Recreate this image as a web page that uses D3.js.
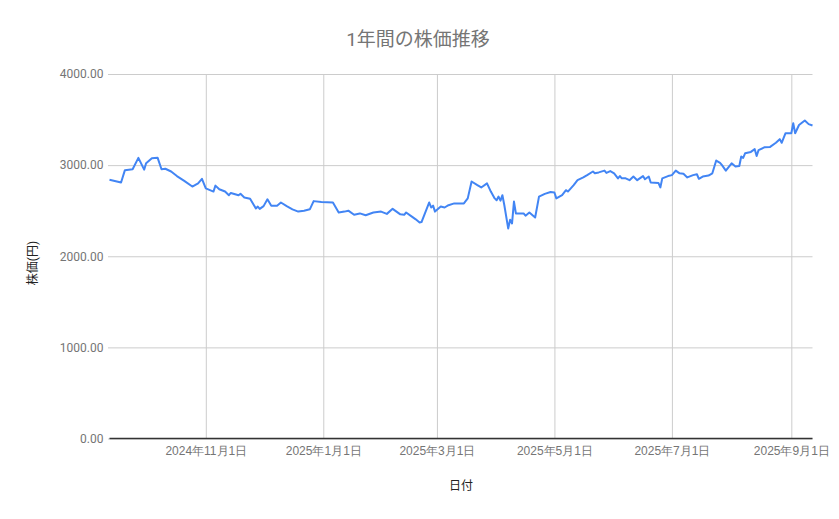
<!DOCTYPE html>
<html>
<head>
<meta charset="utf-8">
<script src="https://cdn.jsdelivr.net/npm/d3@7"></script>
<style>
  body { margin: 0; background: #fff; }
  svg { display: block; font-family: Roboto, "Noto Sans CJK JP", sans-serif; }
</style>
</head>
<body>
<div id="chart"></div>
<script>
var svgWidth = 839;
var svgHeight = 519;

var margin = { top: 74, right: 26.5, bottom: 80.5, left: 109.5 };
var width = svgWidth - margin.left - margin.right;
var height = svgHeight - margin.top - margin.bottom;

// data
var dates = [
  "2024-09-12","2024-09-18","2024-09-20","2024-09-24","2024-09-27","2024-09-30",
  "2024-10-01","2024-10-04","2024-10-07","2024-10-09","2024-10-11","2024-10-14",
  "2024-10-17","2024-10-21","2024-10-25","2024-10-28","2024-10-30","2024-11-01",
  "2024-11-05","2024-11-06","2024-11-08","2024-11-11","2024-11-13","2024-11-14",
  "2024-11-18","2024-11-19","2024-11-21","2024-11-24","2024-11-27","2024-11-28",
  "2024-11-29","2024-12-01","2024-12-03","2024-12-05","2024-12-08","2024-12-10",
  "2024-12-13","2024-12-16","2024-12-19","2024-12-22","2024-12-25","2024-12-27",
  "2024-12-31","2025-01-06","2025-01-09","2025-01-12","2025-01-14","2025-01-17",
  "2025-01-20","2025-01-23","2025-01-27","2025-01-31","2025-02-03","2025-02-06",
  "2025-02-10","2025-02-12","2025-02-13","2025-02-16","2025-02-18","2025-02-20",
  "2025-02-21","2025-02-25","2025-02-26","2025-02-27","2025-02-28","2025-03-03",
  "2025-03-05","2025-03-07","2025-03-10","2025-03-15","2025-03-17","2025-03-19",
  "2025-03-22","2025-03-24","2025-03-27","2025-03-29","2025-03-31","2025-04-01",
  "2025-04-02","2025-04-03","2025-04-04","2025-04-05","2025-04-07","2025-04-08",
  "2025-04-09","2025-04-10","2025-04-11","2025-04-15","2025-04-16","2025-04-18",
  "2025-04-21","2025-04-23","2025-04-26","2025-04-29","2025-05-01","2025-05-02",
  "2025-05-05","2025-05-07","2025-05-08","2025-05-11","2025-05-13","2025-05-16",
  "2025-05-18","2025-05-21","2025-05-22","2025-05-24","2025-05-27","2025-05-28",
  "2025-05-30","2025-06-01","2025-06-03","2025-06-04","2025-06-05","2025-06-07",
  "2025-06-09","2025-06-11","2025-06-13","2025-06-16","2025-06-17","2025-06-19",
  "2025-06-20","2025-06-24","2025-06-25","2025-06-26","2025-06-29","2025-07-01",
  "2025-07-03","2025-07-05","2025-07-07","2025-07-09","2025-07-12","2025-07-14",
  "2025-07-15","2025-07-17","2025-07-20","2025-07-22","2025-07-24","2025-07-26",
  "2025-07-27","2025-07-29","2025-08-01","2025-08-03","2025-08-05","2025-08-06",
  "2025-08-07","2025-08-08","2025-08-11","2025-08-13","2025-08-14","2025-08-15",
  "2025-08-18","2025-08-21","2025-08-24","2025-08-26","2025-08-27","2025-08-29",
  "2025-09-01","2025-09-02","2025-09-03","2025-09-05","2025-09-08","2025-09-10",
  "2025-09-12"
];

var prices = [
  2840, 2810, 2945, 2955, 3080, 2950,
  3020, 3075, 3080, 2955, 2960, 2930,
  2880, 2825, 2765, 2800, 2850, 2745,
  2710, 2775, 2735, 2710, 2670, 2695,
  2670, 2685, 2645, 2630, 2525, 2545,
  2520, 2550, 2625, 2555, 2555, 2590,
  2550, 2515, 2490, 2500, 2515, 2605,
  2595, 2590, 2480, 2490, 2500, 2455,
  2470, 2450, 2480, 2490, 2465, 2520,
  2460, 2455, 2480, 2435, 2405, 2370,
  2375, 2590, 2535, 2555, 2490, 2545,
  2535, 2560, 2580, 2580, 2635, 2820,
  2780, 2755, 2800, 2710, 2635, 2615,
  2655, 2610, 2670, 2560, 2305, 2400,
  2360, 2600, 2470, 2470, 2445, 2480,
  2425, 2655, 2685, 2705, 2700, 2635,
  2670, 2725, 2710, 2780, 2835, 2865,
  2890, 2930, 2910, 2920, 2940, 2915,
  2935, 2910, 2855, 2880, 2855, 2855,
  2835, 2875, 2835, 2880, 2845, 2875,
  2810, 2805, 2755, 2855, 2880, 2890,
  2940, 2910, 2905, 2865, 2890, 2900,
  2850, 2875, 2885, 2910, 3050, 3025,
  3000, 2940, 3020, 2985, 2990, 3095,
  3080, 3130, 3145, 3175, 3100, 3165,
  3195, 3200, 3245, 3285, 3245, 3350,
  3350, 3460, 3350, 3440, 3490, 3450,
  3435
];

var yTicks = [0, 1000, 2000, 3000, 4000];
var xTickDates = ["2024-11-01", "2025-01-01", "2025-03-01", "2025-05-01", "2025-07-01", "2025-09-01"];

var chartTitle = "1年間の株価推移";
var xTitle = "日付";
var yTitle = "株価(円)";

var parseDate = d3.timeParse("%Y-%m-%d");
var data = dates.map(function(d, i) {
  return { date: parseDate(d), price: prices[i] };
});

var svg = d3.select("#chart")
  .append("svg")
  .attr("width", svgWidth)
  .attr("height", svgHeight);

var chartGroup = svg.append("g")
  .attr("transform", `translate(${margin.left}, ${margin.top})`);

var xTimeScale = d3.scaleTime()
  .domain(d3.extent(data, d => d.date))
  .range([0, width]);
var yLinearScale = d3.scaleLinear()
  .domain([0, 4000])
  .range([height, 0]);

// horizontal gridlines + labels
var leftAxis = d3.axisLeft(yLinearScale)
  .tickValues(yTicks)
  .tickSize(-width)
  .tickPadding(6)
  .tickFormat(d3.format(".2f"));

var yAxisG = chartGroup.append("g").call(leftAxis);
yAxisG.select(".domain").remove();
yAxisG.selectAll(".tick line")
  .attr("stroke", "#cccccc")
  .attr("x1", -1.5);
yAxisG.selectAll(".tick text")
  .attr("fill", "#757575")
  .attr("font-size", "12px")
  .style("font-family", "Roboto, sans-serif");

// vertical gridlines + date labels
var bottomAxis = d3.axisBottom(xTimeScale)
  .tickValues(xTickDates.map(parseDate))
  .tickSize(-height)
  .tickPadding(8)
  .tickFormat(d3.timeFormat("%Y年%-m月%-d日"));

var xAxisG = chartGroup.append("g")
  .attr("transform", `translate(0, ${height})`)
  .call(bottomAxis);
xAxisG.select(".domain").remove();
xAxisG.selectAll(".tick line").attr("stroke", "#cccccc");
xAxisG.selectAll(".tick text")
  .attr("fill", "#757575")
  .attr("font-size", "12px");

// baseline
chartGroup.append("line")
  .attr("x1", 0)
  .attr("x2", width)
  .attr("y1", yLinearScale(0))
  .attr("y2", yLinearScale(0))
  .attr("stroke", "#333333")
  .attr("stroke-width", 1.5);

var line = d3.line()
  .x(d => xTimeScale(d.date))
  .y(d => yLinearScale(d.price));

chartGroup.append("path")
  .datum(data)
  .attr("d", line)
  .attr("fill", "none")
  .attr("stroke", "#4285f4")
  .attr("stroke-width", 2)
  .attr("stroke-linejoin", "round");

// titles
svg.append("text")
  .attr("x", 418)
  .attr("y", 46)
  .attr("text-anchor", "middle")
  .attr("fill", "#757575")
  .attr("font-size", "19px")
  .text(chartTitle);

svg.append("text")
  .attr("x", margin.left + width / 2)
  .attr("y", 490)
  .attr("text-anchor", "middle")
  .attr("fill", "#222222")
  .attr("font-size", "12px")
  .text(xTitle);

svg.append("text")
  .attr("transform", "translate(37, 263) rotate(-90)")
  .attr("text-anchor", "middle")
  .attr("fill", "#222222")
  .attr("font-size", "12px")
  .text(yTitle);
</script>
</body>
</html>
